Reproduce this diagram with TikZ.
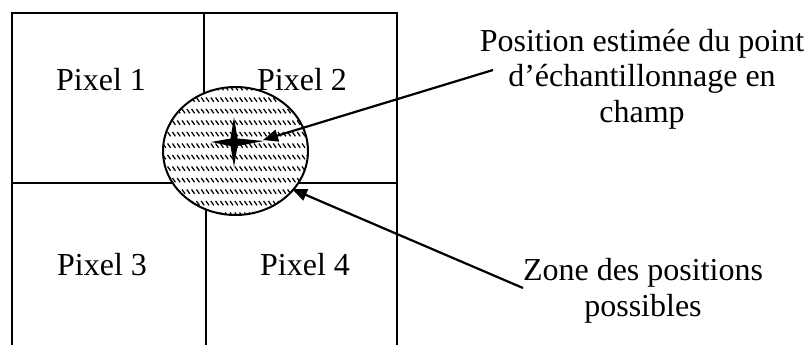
\documentclass[tikz,border=0pt]{standalone}
\usepackage{fontspec}
\setmainfont{Liberation Serif}
\usetikzlibrary{arrows.meta}
\begin{document}
\begin{tikzpicture}[x=1pt,y=-1pt,
  gridline/.style={line width=1.7pt},
  label/.style={font=\fontsize{32}{36}\selectfont, inner sep=0pt, anchor=base},
  callout/.style={font=\fontsize{32}{35.5}\selectfont, inner sep=0pt, align=center, anchor=base},
  pointer/.style={line width=2.2pt, -{Triangle[length=15pt,width=12pt]}},
  hatchdash/.style={line width=1.25pt}
]
\useasboundingbox (0,0) rectangle (805,345);

% pixel grid (open at the bottom)
\draw[gridline] (12,345) -- (12,13) -- (397,13) -- (397,345);
\draw[gridline] (12,183) -- (397,183);
\draw[gridline] (204,13) -- (204,183);
\draw[gridline] (206,183) -- (206,345);

% pixel labels
\node[label] (p1) at (101,90) {Pixel 1};
\node[label] (p2) at (302,90) {Pixel 2};
\node[label] (p3) at (102,275) {Pixel 3};
\node[label] (p4) at (305,275) {Pixel 4};

% zone of possible positions: hatched disc
\fill[white] (235.5,151) ellipse [x radius=72.5, y radius=64];
\begin{scope}
  \clip (235.5,151) ellipse [x radius=72.5, y radius=64];
  \foreach \yy in {86,97.5,...,220} {
    \foreach \xx in {158,162.8,...,312} {
      \draw[hatchdash] (\xx,\yy) -- ++(3,4.3);
    }
  }
\end{scope}
\draw[line width=2pt] (235.5,151) ellipse [x radius=72.5, y radius=64];

% estimated sampling point: four-pointed star
\fill (234,117) -- (237.5,138.5) -- (264,141) -- (237.5,146) -- (234,167)
      -- (230.5,146) -- (211,142) -- (230.5,138.5) -- cycle;

% callout texts
\node[callout] (txtA) at (642,122) {Position estimée du point\\d’échantillonnage en\\champ};
\node[callout] (txtB) at (643,316) {Zone des positions\\possibles};

% pointer lines
\coordinate (startA) at (493,70);
\coordinate (tipA) at (263,140);
\coordinate (startB) at (523,288);
\coordinate (tipB) at (292,189);
\draw[pointer] (startA) -- (tipA);
\draw[pointer] (startB) -- (tipB);
\end{tikzpicture}
\end{document}
